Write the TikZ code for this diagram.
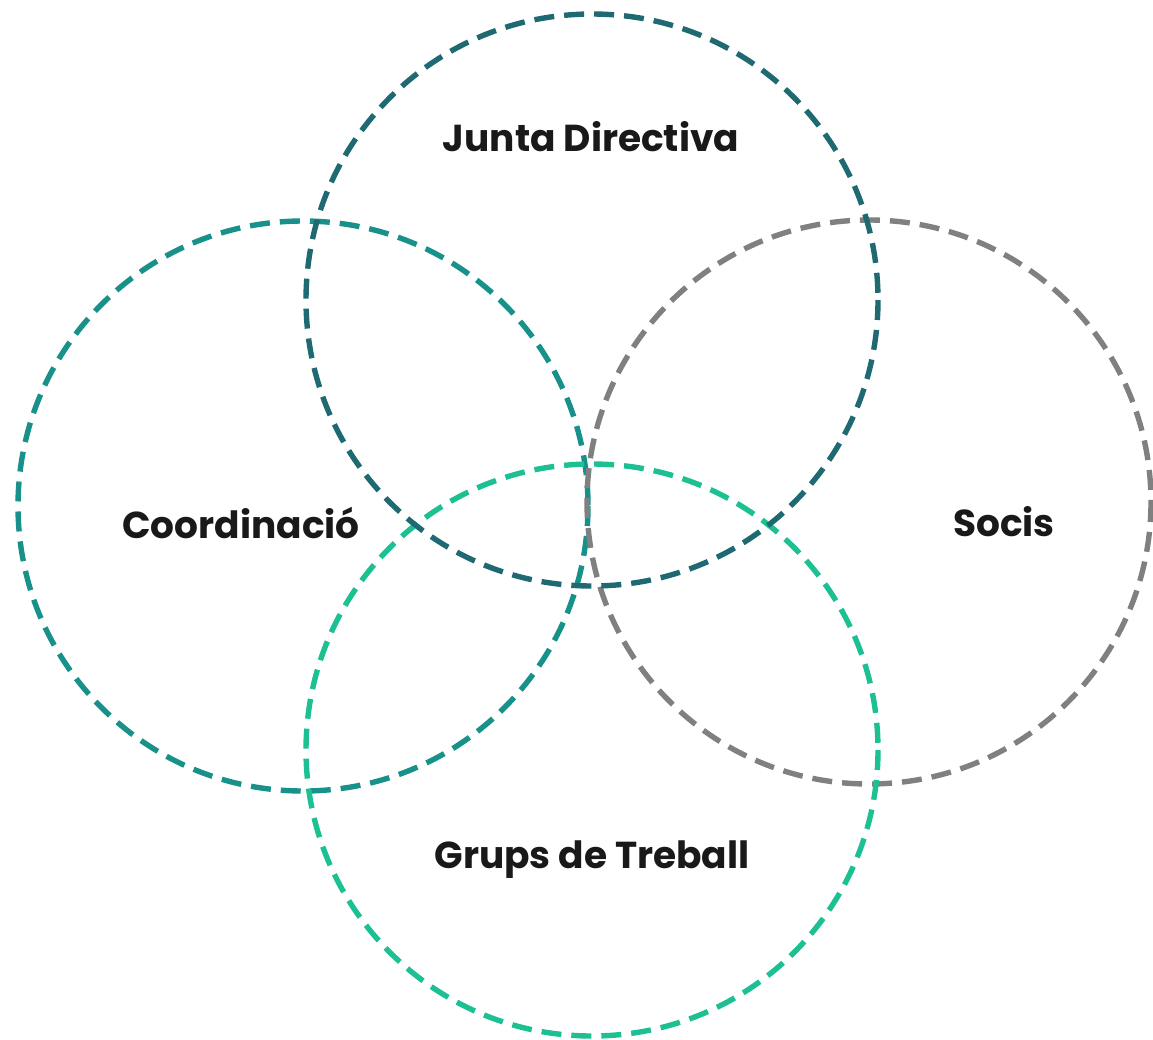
\documentclass[tikz,border=0pt]{standalone}
\usepackage{fontspec}
\setmainfont{Poppins}
\definecolor{juntac}{HTML}{1F6A72}
\definecolor{coordc}{HTML}{17918A}
\definecolor{socisc}{HTML}{808080}
\definecolor{grupsc}{HTML}{1DC093}
\begin{document}
\begin{tikzpicture}[x=1pt,y=-1pt,
  ring/.style={draw=#1,line width=5.4pt,dash pattern=on 20pt off 10pt},
  lbl/.style={font=\fontsize{37.5}{40}\selectfont\bfseries,text=black!90}]
\useasboundingbox (0,0) rectangle (1153,1039);
\path[ring=coordc] (303,506) circle[radius=285];
\path[ring=socisc] (869,502) circle[radius=282];
\path[ring=grupsc] (592,750) circle[radius=286];
\path[ring=juntac] (592,300) circle[radius=286];
\node[lbl] (junta) at (591,137) {Junta Directiva};
\node[lbl] (coord) at (241,523) {Coordinació};
\node[lbl] (socis) at (1004,522) {Socis};
\node[lbl] (grups) at (592,860) {Grups de Treball};
\end{tikzpicture}
\end{document}
